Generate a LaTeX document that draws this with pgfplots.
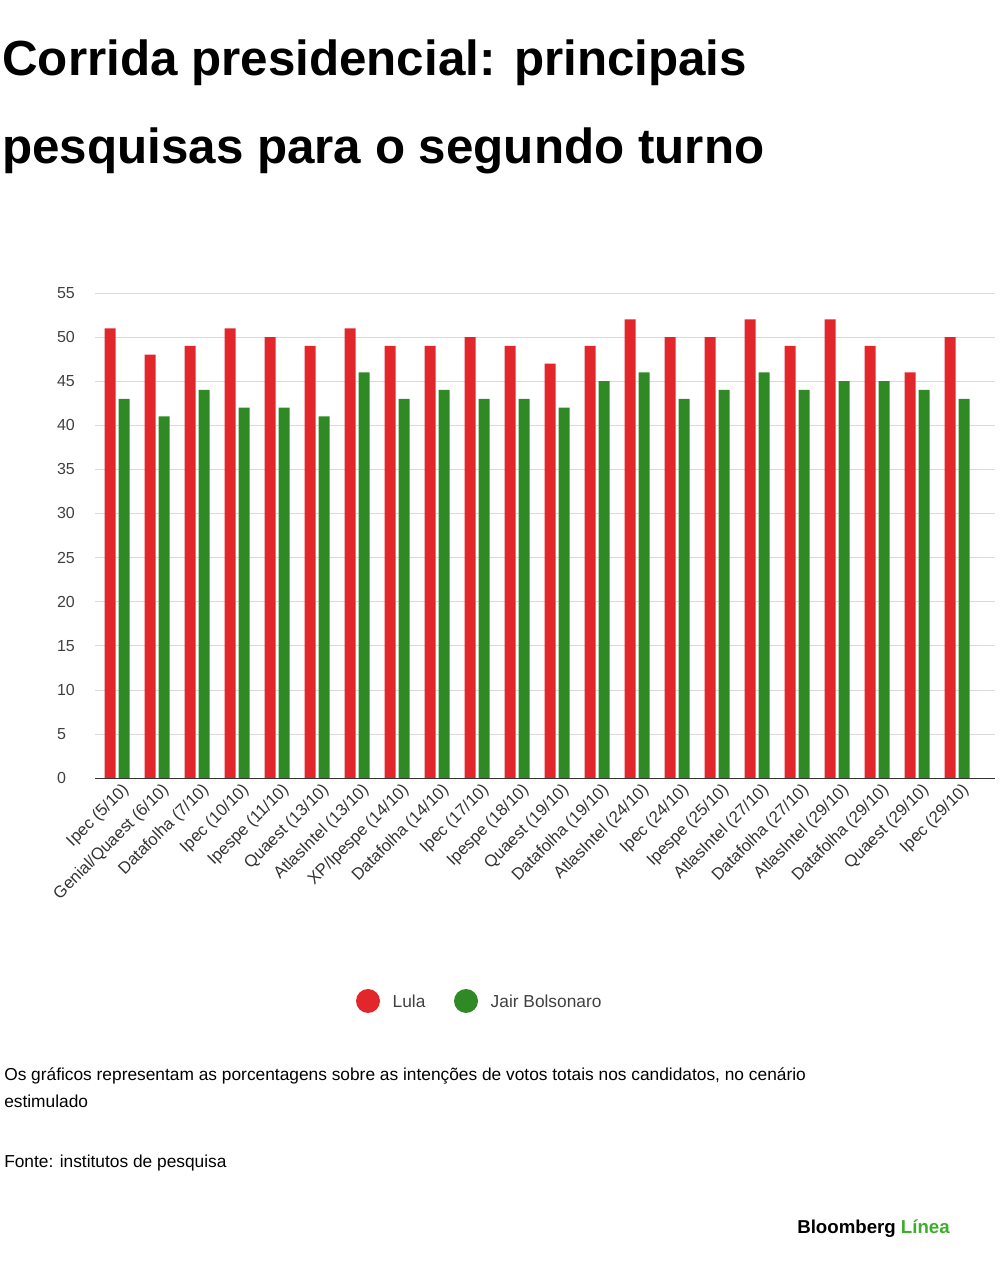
\documentclass[border=0pt]{standalone}
\usepackage{pgfplots}
\pgfplotsset{compat=1.18}
\usepackage{fontspec}
\setmainfont{Liberation Sans}
\definecolor{lred}{HTML}{E1262C}
\definecolor{bgreen}{HTML}{2F8A25}
\definecolor{lgreen}{HTML}{3DAE2B}
\begin{document}
\begin{tikzpicture}[x=0.75pt,y=0.75pt]
\useasboundingbox (0,0) rectangle (1000,1279);
\node[anchor=north west,align=left,font=\bfseries\fontsize{37}{66}\selectfont,inner sep=0] at (2,1240) {Corrida presidencial: principais\\pesquisas para o segundo turno};
\begin{axis}[at={(71.25pt,375.75pt)},anchor=south west,scale only axis,width=675pt,height=363.75pt,
 ymin=0,ymax=55,xmin=-0.55,xmax=21.95,ytick={0,5,...,55},
 ymajorgrids,grid style={gray!30},axis x line*=bottom,
 axis line style={black!80},y axis line style={draw=none},
 ytick style={draw=none},xtick style={draw=none},
 yticklabel style={font=\fontsize{12}{12}\selectfont,text=black!75,anchor=west,xshift=-32pt},
 /pgf/number format/assume math mode=true,
 xtick=data,
 xticklabels={Ipec (5/10),Genial/Quaest (6/10),Datafolha (7/10),Ipec (10/10),Ipespe (11/10),Quaest (13/10),AtlasIntel (13/10),XP/Ipespe (14/10),Datafolha (14/10),Ipec (17/10),Ipespe (18/10),Quaest (19/10),Datafolha (19/10),AtlasIntel (24/10),Ipec (24/10),Ipespe (25/10),AtlasIntel (27/10),Datafolha (27/10),AtlasIntel (29/10),Datafolha (29/10),Quaest (29/10),Ipec (29/10)},
 xticklabel style={rotate=45,anchor=north east,font=\fontsize{12.5}{12}\selectfont,text=black!80,inner sep=1pt,xshift=4pt},
 ybar,bar width=8.25pt,
]
\addplot[fill=lred,draw=none,bar shift=-5.25pt] coordinates {(0,51)(1,48)(2,49)(3,51)(4,50)(5,49)(6,51)(7,49)(8,49)(9,50)(10,49)(11,47)(12,49)(13,52)(14,50)(15,50)(16,52)(17,49)(18,52)(19,49)(20,46)(21,50)};
\addplot[fill=bgreen,draw=none,bar shift=5.25pt] coordinates {(0,43)(1,41)(2,44)(3,42)(4,42)(5,41)(6,46)(7,43)(8,44)(9,43)(10,43)(11,42)(12,45)(13,46)(14,43)(15,44)(16,46)(17,44)(18,45)(19,45)(20,44)(21,43)};
\end{axis}
\fill[lred] (368,278) circle (12);
\node[anchor=west,font=\fontsize{13}{13}\selectfont,text=black!75] at (388,278) {Lula};
\fill[bgreen] (466,278) circle (12);
\node[anchor=west,font=\fontsize{13}{13}\selectfont,text=black!75] at (486,278) {Jair Bolsonaro};
\node[anchor=north west,align=left,inner sep=0,font=\fontsize{13}{20.5}\selectfont] at (4,212) {Os gráficos representam as porcentagens sobre as intenções de votos totais nos candidatos, no cenário\\estimulado};
\node[anchor=north west,inner sep=0,font=\fontsize{13}{15}\selectfont] at (4,124) {Fonte: institutos de pesquisa};
\node[anchor=east,inner sep=0,font=\bfseries\fontsize{14}{15}\selectfont] at (950,50) {Bloomberg \textcolor{lgreen}{Línea}};
\end{tikzpicture}
\end{document}
